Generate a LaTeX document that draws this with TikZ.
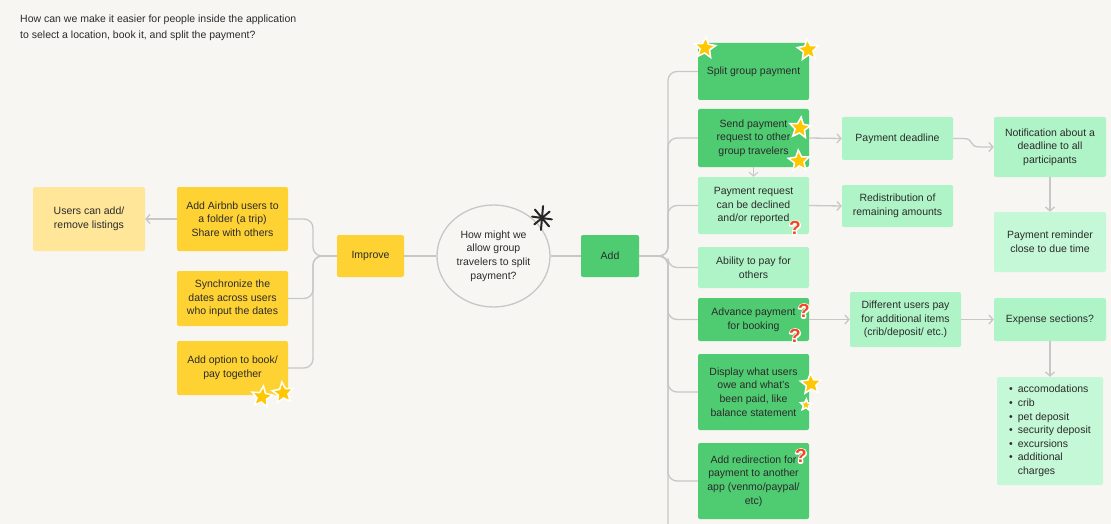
\documentclass[tikz,border=0pt]{standalone}
\usepackage{fontspec}
\setmainfont{Liberation Sans}
\usetikzlibrary{shapes.geometric,arrows.meta}
\definecolor{bg}{HTML}{F7F6F3}
\definecolor{ydark}{HTML}{FFD233}
\definecolor{ylight}{HTML}{FFE699}
\definecolor{gdark}{HTML}{4FCB71}
\definecolor{glight}{HTML}{AFF4C6}
\definecolor{gpale}{HTML}{C4F8D6}
\definecolor{linec}{HTML}{C7C7C7}
\definecolor{txt}{HTML}{2B2B2B}
\definecolor{qred}{HTML}{F24822}
\definecolor{stary}{HTML}{FFC700}
\newcommand\bxfont{\fontsize{10.5}{13.6}\selectfont}
\newcommand\qmark{\fontsize{19}{19}\selectfont\bfseries\rlap{\textcolor{white}{\special{pdf:literal direct 1 Tr 2.6 w 1 j}?\special{pdf:literal direct 0 Tr}}}\textcolor{qred}{?}}
\begin{document}
\begin{tikzpicture}[x=1pt,y=-1pt,
  card/.style={rectangle, rounded corners=2pt, align=center, text=txt, font=\bxfont, inner sep=2pt},
  yd/.style={card, fill=ydark},
  yl/.style={card, fill=ylight},
  gd/.style={card, fill=gdark},
  gl/.style={card, fill=glight},
  gp/.style={card, fill=gpale},
  conn/.style={draw=linec, line width=1.3pt, rounded corners=9pt},
  arr/.style={conn, -{Straight Barb[length=4pt,width=9pt]}},
  sticker/.style={star, star points=5, star point ratio=2.2, fill=stary, draw=white, line width=1.5pt, inner sep=0pt},
  qm/.style={inner sep=0pt}
]
\useasboundingbox[fill=bg] (0,0) rectangle (1111,524);

% title
\node[anchor=north west, align=left, text=txt, font=\fontsize{10.5}{16}\selectfont, inner sep=0pt] (title) at (20,15)
  {How can we make it easier for people inside the application\\to select a location, book it, and split the payment?};

% left side
\node[yl, minimum width=112, minimum height=64] (users) at (89,219) {Users can add/\\remove listings};
\node[yd, minimum width=111, minimum height=64] (airbnb) at (232.5,219) {Add Airbnb users to\\a folder (a trip)\\Share with others};
\node[yd, minimum width=111, minimum height=55] (sync) at (232.5,298.5) {Synchronize the\\dates across users\\who input the dates};
\node[yd, minimum width=111, minimum height=54] (addopt) at (232.5,368) {Add option to book/\\pay together};
\node[yd, minimum width=67, minimum height=42] (improve) at (370.5,256) {Improve};
\node[ellipse, draw=linec, line width=1.3pt, fill=bg, minimum width=113, minimum height=102, inner sep=0pt, align=center, text=txt, font=\bxfont] (hmw) at (493.5,256) {How might we\\allow group\\travelers to split\\payment?};
\node[gd, minimum width=58, minimum height=42] (add) at (610,256) {Add};

% right column
\node[gd, minimum width=111, minimum height=57] (split) at (753.5,71.5) {Split group payment};
\node[gd, minimum width=111, minimum height=58] (send) at (753.5,138) {Send payment\\request to other\\group travelers};
\node[gl, minimum width=111, minimum height=57] (declined) at (753.5,205.5) {Payment request\\can be declined\\and/or reported};
\node[gl, minimum width=111, minimum height=41] (ability) at (753.5,267.5) {Ability to pay for\\others};
\node[gd, minimum width=111, minimum height=43] (advance) at (753.5,319.5) {Advance payment\\for booking};
\node[gd, minimum width=111, minimum height=76] (display) at (753.5,392) {Display what users\\owe and what's\\been paid, like\\balance statement};
\node[gd, minimum width=111, minimum height=76] (redirect) at (753.5,481) {Add redirection for\\payment to another\\app (venmo/paypal/\\etc)};

% second column
\node[gl, minimum width=111, minimum height=43] (deadline) at (897.5,138.5) {Payment deadline};
\node[gl, minimum width=111, minimum height=42] (redis) at (897.5,206) {Redistribution of\\remaining amounts};
\node[gl, minimum width=111, minimum height=55] (different) at (905.5,319.5) {Different users pay\\for additional items\\(crib/deposit/ etc.)};

% third column
\node[gl, minimum width=112, minimum height=60] (notif) at (1050,147) {Notification about a\\deadline to all\\participants};
\node[gp, minimum width=112, minimum height=60] (reminder) at (1050,242) {Payment reminder\\close to due time};
\node[gl, minimum width=112, minimum height=43] (expense) at (1050,319.5) {Expense sections?};
\node[gp, minimum width=106, minimum height=108] (list) at (1050,431) {\begin{tabular}{@{}l@{\hspace{5pt}}l@{}}
\textbullet & accomodations\\
\textbullet & crib\\
\textbullet & pet deposit\\
\textbullet & security deposit\\
\textbullet & excursions\\
\textbullet & additional\\
 & charges
\end{tabular}};

% connectors left
\coordinate (lt) at (313,256);
\draw[conn] (improve.west) -- (lt) |- (airbnb.east);
\draw[conn] (improve.west) -- (lt) |- (sync.east);
\draw[conn] (improve.west) -- (lt) |- (addopt.east);
\draw[arr] (airbnb.west) -- (users.east);
\draw[conn] (improve.east) -- (hmw.west);
\draw[conn] (hmw.east) -- (add.west);

% connectors right trunk
\coordinate (rt) at (668,256);
\coordinate (rbot) at (668,530);
\foreach \n in {split,send,declined,ability,advance,display,redirect}{
  \draw[conn] (add.east) -- (rt) |- (\n.west);
}
\draw[conn] (add.east) -- (rt) -- (rbot);

% arrows
\draw[arr, line width=1pt] (send.south) -- (declined.north);
\draw[arr] (send.east) -- (deadline.west);
\draw[arr] (declined.east) -- (redis.west);
\draw[arr] (advance.east) -- (different.west);
\draw[arr] (different.east) -- (expense.west);
\draw[arr] (notif.south) -- (reminder.north);
\draw[arr] (expense.south) -- (list.north);
\draw[draw=linec, line width=1.3pt, -{Straight Barb[length=4pt,width=9pt]}] (deadline.east) -- ++(10,0) .. controls +(12,0) and +(-12,0) .. ([xshift=-14pt]notif.west) -- (notif.west);

% stickers
\node[sticker, minimum size=22pt, rotate=-8] (s1) at (262,397) {};
\node[sticker, minimum size=22pt, rotate=6] (s2) at (283,393) {};
\node[sticker, minimum size=22pt, rotate=-5] (s3) at (705,48) {};
\node[sticker, minimum size=22pt, rotate=5] (s4) at (808,50) {};
\node[sticker, minimum size=22pt, rotate=-6] (s5) at (800,128) {};
\node[sticker, minimum size=22pt, rotate=4] (s6) at (799,161) {};
\node[sticker, minimum size=22pt, rotate=3] (s7) at (811,384) {};
\node[sticker, minimum size=12pt, rotate=-4] (s8) at (806,405) {};
\node[qm] (q1) at (795,228) {\qmark};
\node[qm] (q2) at (804,311) {\qmark};
\node[qm] (q3) at (795,336) {\qmark};
\node[qm] (q4) at (801,456) {\qmark};

% asterisk
\coordinate (ast) at (542,218);
\foreach \a/\l in {8/10,50/11,95/12,140/10}{
  \draw[line width=2pt, black!85, line cap=round] (ast) ++(\a:\l) -- ++(\a+180:2*\l);
}
\end{tikzpicture}
\end{document}
